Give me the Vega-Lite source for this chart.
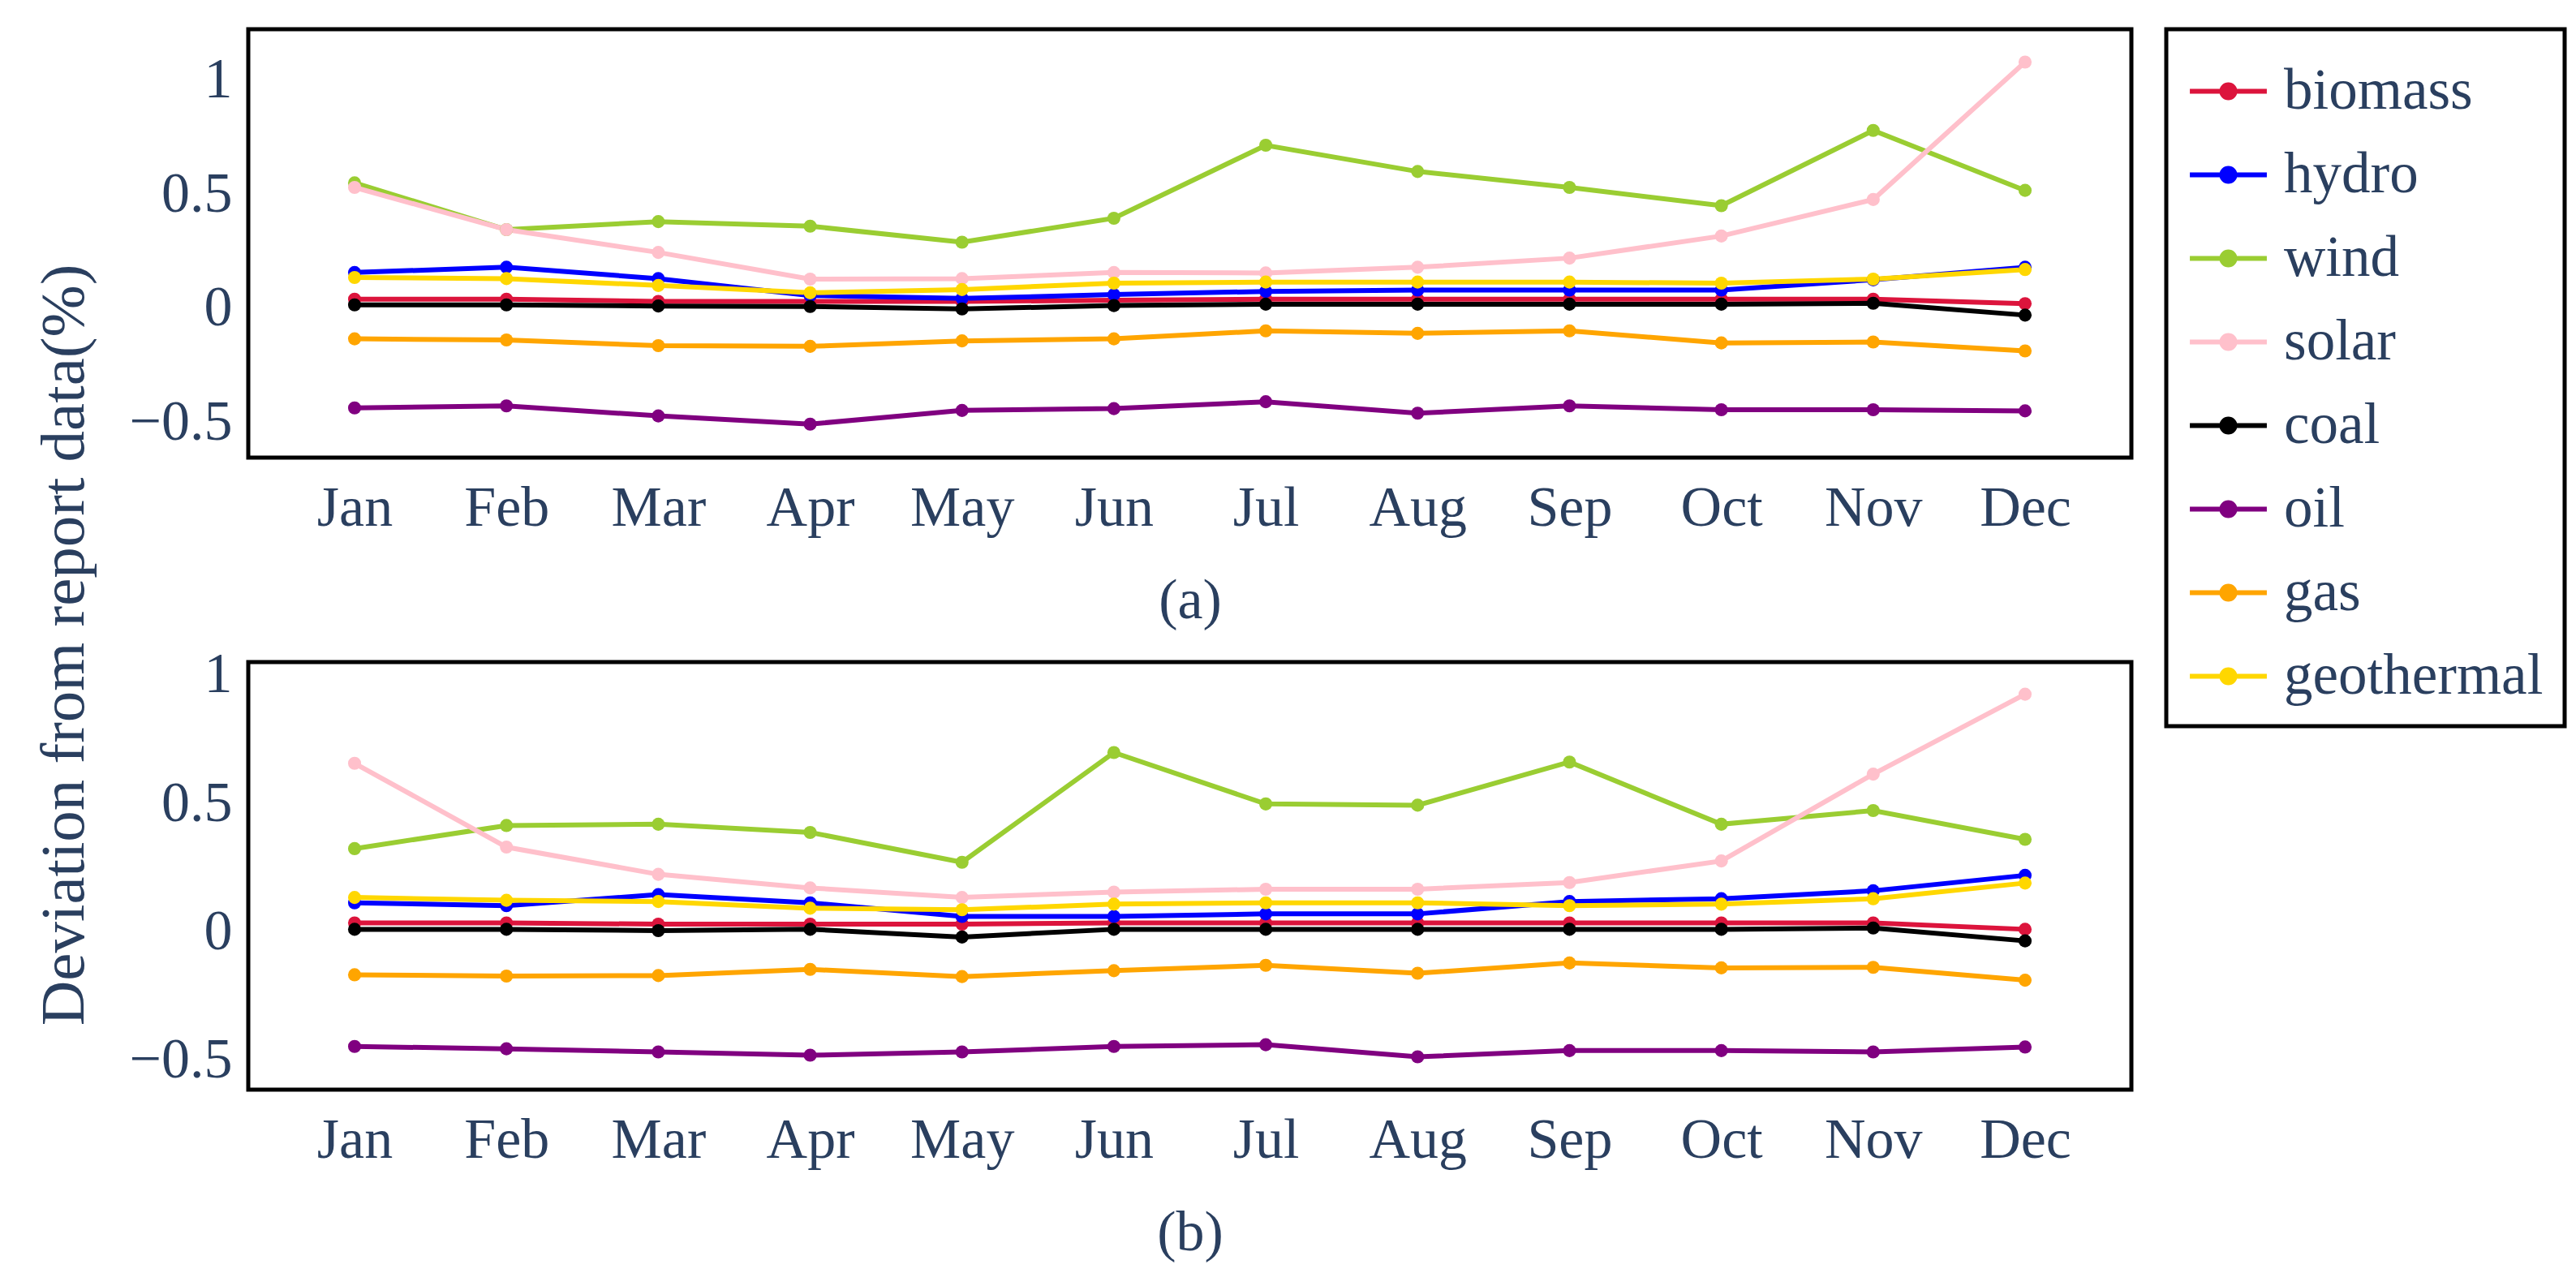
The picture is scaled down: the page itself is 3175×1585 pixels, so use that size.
{
  "$schema": "https://vega.github.io/schema/vega-lite/v6.json",
  "background": "white",
  "padding": {"left": 40, "top": 33, "right": 5, "bottom": 5},
  "title": {"text": "Deviation from report data(%)", "orient": "left", "anchor": "middle", "frame": "bounds", "font": "Liberation Serif", "fontSize": 77, "fontWeight": "normal", "color": "#2a3f5f", "offset": 38},
  "data": {"values": [
    {"panel": "a", "month": "Jan", "biomass": 0.04, "hydro": 0.157, "wind": 0.55, "solar": 0.53, "coal": 0.015, "oil": -0.437, "gas": -0.134, "geothermal": 0.135},
    {"panel": "a", "month": "Feb", "biomass": 0.04, "hydro": 0.18, "wind": 0.345, "solar": 0.345, "coal": 0.015, "oil": -0.428, "gas": -0.139, "geothermal": 0.13},
    {"panel": "a", "month": "Mar", "biomass": 0.03, "hydro": 0.13, "wind": 0.38, "solar": 0.245, "coal": 0.01, "oil": -0.472, "gas": -0.164, "geothermal": 0.1},
    {"panel": "a", "month": "Apr", "biomass": 0.03, "hydro": 0.056, "wind": 0.36, "solar": 0.128, "coal": 0.008, "oil": -0.508, "gas": -0.167, "geothermal": 0.068},
    {"panel": "a", "month": "May", "biomass": 0.03, "hydro": 0.043, "wind": 0.29, "solar": 0.13, "coal": -0.003, "oil": -0.448, "gas": -0.143, "geothermal": 0.082},
    {"panel": "a", "month": "Jun", "biomass": 0.035, "hydro": 0.06, "wind": 0.395, "solar": 0.157, "coal": 0.012, "oil": -0.44, "gas": -0.134, "geothermal": 0.11},
    {"panel": "a", "month": "Jul", "biomass": 0.04, "hydro": 0.074, "wind": 0.715, "solar": 0.155, "coal": 0.018, "oil": -0.41, "gas": -0.099, "geothermal": 0.115},
    {"panel": "a", "month": "Aug", "biomass": 0.04, "hydro": 0.08, "wind": 0.6, "solar": 0.18, "coal": 0.018, "oil": -0.46, "gas": -0.11, "geothermal": 0.115},
    {"panel": "a", "month": "Sep", "biomass": 0.04, "hydro": 0.08, "wind": 0.53, "solar": 0.22, "coal": 0.018, "oil": -0.428, "gas": -0.099, "geothermal": 0.115},
    {"panel": "a", "month": "Oct", "biomass": 0.04, "hydro": 0.08, "wind": 0.45, "solar": 0.317, "coal": 0.018, "oil": -0.445, "gas": -0.152, "geothermal": 0.11},
    {"panel": "a", "month": "Nov", "biomass": 0.04, "hydro": 0.125, "wind": 0.78, "solar": 0.477, "coal": 0.022, "oil": -0.445, "gas": -0.148, "geothermal": 0.128},
    {"panel": "a", "month": "Dec", "biomass": 0.02, "hydro": 0.18, "wind": 0.517, "solar": 1.08, "coal": -0.03, "oil": -0.45, "gas": -0.187, "geothermal": 0.17},
    {"panel": "b", "month": "Jan", "biomass": 0.035, "hydro": 0.113, "wind": 0.324, "solar": 0.656, "coal": 0.01, "oil": -0.446, "gas": -0.167, "geothermal": 0.134},
    {"panel": "b", "month": "Feb", "biomass": 0.035, "hydro": 0.102, "wind": 0.414, "solar": 0.33, "coal": 0.01, "oil": -0.455, "gas": -0.172, "geothermal": 0.123},
    {"panel": "b", "month": "Mar", "biomass": 0.03, "hydro": 0.145, "wind": 0.419, "solar": 0.224, "coal": 0.005, "oil": -0.467, "gas": -0.17, "geothermal": 0.118},
    {"panel": "b", "month": "Apr", "biomass": 0.03, "hydro": 0.113, "wind": 0.387, "solar": 0.171, "coal": 0.01, "oil": -0.48, "gas": -0.146, "geothermal": 0.092},
    {"panel": "b", "month": "May", "biomass": 0.03, "hydro": 0.06, "wind": 0.271, "solar": 0.134, "coal": -0.02, "oil": -0.467, "gas": -0.174, "geothermal": 0.086},
    {"panel": "b", "month": "Jun", "biomass": 0.035, "hydro": 0.06, "wind": 0.698, "solar": 0.155, "coal": 0.01, "oil": -0.446, "gas": -0.151, "geothermal": 0.108},
    {"panel": "b", "month": "Jul", "biomass": 0.035, "hydro": 0.07, "wind": 0.498, "solar": 0.166, "coal": 0.01, "oil": -0.439, "gas": -0.13, "geothermal": 0.113},
    {"panel": "b", "month": "Aug", "biomass": 0.035, "hydro": 0.07, "wind": 0.493, "solar": 0.166, "coal": 0.01, "oil": -0.486, "gas": -0.161, "geothermal": 0.113},
    {"panel": "b", "month": "Sep", "biomass": 0.035, "hydro": 0.118, "wind": 0.661, "solar": 0.192, "coal": 0.01, "oil": -0.462, "gas": -0.121, "geothermal": 0.102},
    {"panel": "b", "month": "Oct", "biomass": 0.035, "hydro": 0.129, "wind": 0.419, "solar": 0.276, "coal": 0.01, "oil": -0.462, "gas": -0.14, "geothermal": 0.108},
    {"panel": "b", "month": "Nov", "biomass": 0.035, "hydro": 0.16, "wind": 0.472, "solar": 0.614, "coal": 0.015, "oil": -0.467, "gas": -0.138, "geothermal": 0.129},
    {"panel": "b", "month": "Dec", "biomass": 0.01, "hydro": 0.22, "wind": 0.36, "solar": 0.925, "coal": -0.035, "oil": -0.448, "gas": -0.188, "geothermal": 0.19}
  ]},
  "transform": [
    {"fold": ["biomass", "hydro", "wind", "solar", "coal", "oil", "gas", "geothermal"], "as": ["source", "value"]}
  ],
  "config": {
    "view": {"stroke": "black", "strokeWidth": 5},
    "axis": {"grid": false, "domain": false, "ticks": false, "labelFont": "Liberation Serif", "labelFontSize": 70, "labelColor": "#2a3f5f", "titleFont": "Liberation Serif", "titleFontSize": 70, "titleFontWeight": "normal", "titleColor": "#2a3f5f"},
    "legend": {"orient": "right", "offset": 40, "padding": 26, "strokeColor": "black", "strokeWidth": 5, "labelFont": "Liberation Serif", "labelFontSize": 71, "labelColor": "#2a3f5f", "labelLimit": 600}
  },
  "spacing": 16,
  "vconcat": [
    {
      "width": 2321,
      "height": 528,
      "transform": [{"filter": "datum.panel === 'a'"}],
      "mark": {"type": "line", "strokeWidth": 6, "point": {"filled": true, "size": 260}},
      "encoding": {
        "x": {"field": "month", "type": "ordinal", "sort": ["Jan", "Feb", "Mar", "Apr", "May", "Jun", "Jul", "Aug", "Sep", "Oct", "Nov", "Dec"], "scale": {"type": "point", "padding": 0.7}, "axis": {"title": "(a)", "labelAngle": 0, "labelPadding": 28, "titlePadding": 45}},
        "y": {"field": "value", "type": "quantitative", "scale": {"domain": [-0.655, 1.224], "nice": false, "zero": false}, "axis": {"title": null, "values": [-0.5, 0, 0.5, 1], "format": ".1~f", "labelPadding": 20}},
        "color": {"field": "source", "type": "nominal", "scale": {"domain": ["biomass", "hydro", "wind", "solar", "coal", "oil", "gas", "geothermal"], "range": ["#DC143C", "#0000FF", "#9ACD32", "#FFC0CB", "#000000", "#800080", "#FFA500", "#FFD700"]},
          "legend": {"title": null, "symbolType": "M-1,0H1M-0.17,0A0.17,0.17 0 1,0 0.17,0A0.17,0.17 0 1,0 -0.17,0Z", "symbolSize": 9000, "symbolStrokeWidth": 6, "rowPadding": 17, "labelOffset": 18,
            "encode": {"symbols": {"update": {"fill": {"scale": "color", "field": "value"}, "stroke": {"scale": "color", "field": "value"}, "opacity": {"value": 1}}}}}}
      }
    },
    {
      "width": 2321,
      "height": 527,
      "transform": [{"filter": "datum.panel === 'b'"}],
      "mark": {"type": "line", "strokeWidth": 6, "point": {"filled": true, "size": 260}},
      "encoding": {
        "x": {"field": "month", "type": "ordinal", "sort": ["Jan", "Feb", "Mar", "Apr", "May", "Jun", "Jul", "Aug", "Sep", "Oct", "Nov", "Dec"], "scale": {"type": "point", "padding": 0.7}, "axis": {"title": "(b)", "labelAngle": 0, "labelPadding": 28, "titlePadding": 45}},
        "y": {"field": "value", "type": "quantitative", "scale": {"domain": [-0.614, 1.05], "nice": false, "zero": false}, "axis": {"title": null, "values": [-0.5, 0, 0.5, 1], "format": ".1~f", "labelPadding": 20}},
        "color": {"field": "source", "type": "nominal", "scale": {"domain": ["biomass", "hydro", "wind", "solar", "coal", "oil", "gas", "geothermal"], "range": ["#DC143C", "#0000FF", "#9ACD32", "#FFC0CB", "#000000", "#800080", "#FFA500", "#FFD700"]},
          "legend": {"title": null, "symbolType": "M-1,0H1M-0.17,0A0.17,0.17 0 1,0 0.17,0A0.17,0.17 0 1,0 -0.17,0Z", "symbolSize": 9000, "symbolStrokeWidth": 6, "rowPadding": 17, "labelOffset": 18,
            "encode": {"symbols": {"update": {"fill": {"scale": "color", "field": "value"}, "stroke": {"scale": "color", "field": "value"}, "opacity": {"value": 1}}}}}}
      }
    }
  ],
  "resolve": {"scale": {"y": "independent", "x": "independent"}}
}
